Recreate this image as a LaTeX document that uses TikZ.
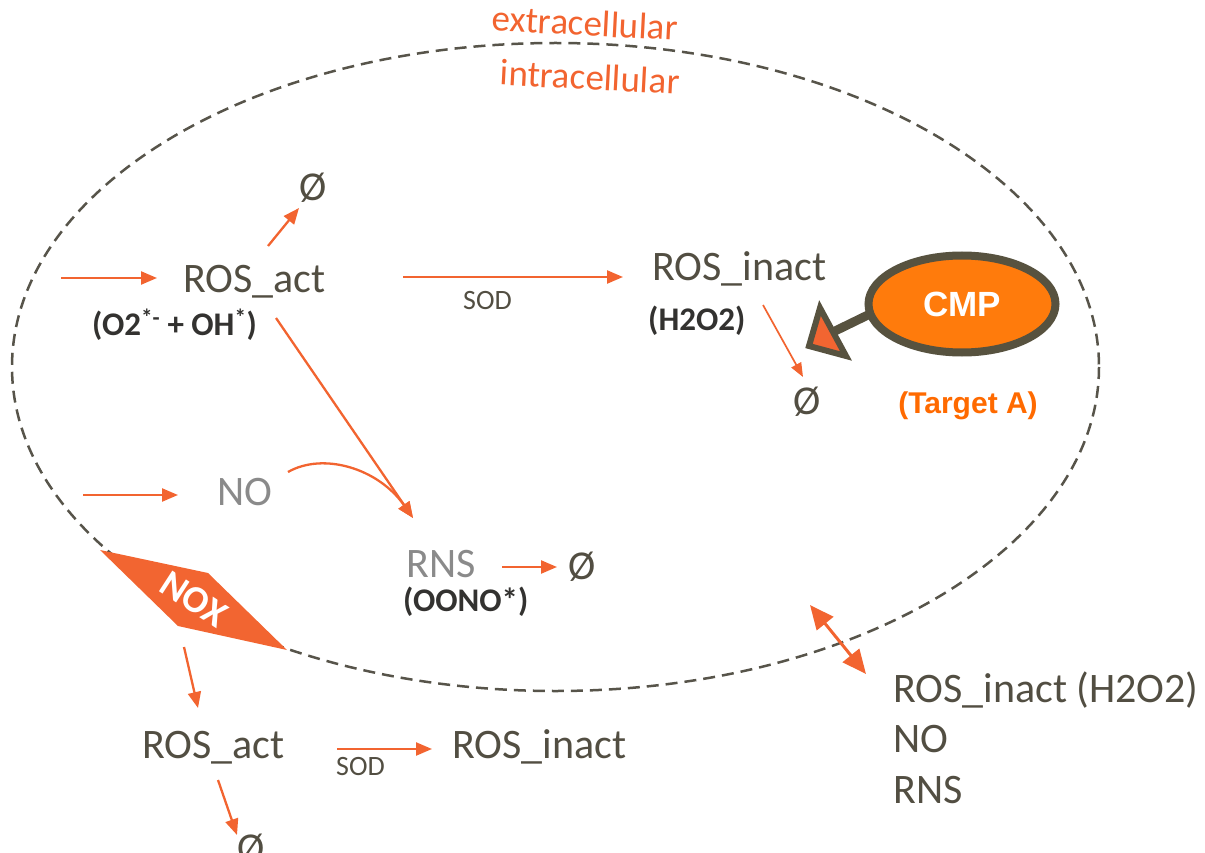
\documentclass[tikz,border=0pt]{standalone}
\usepackage{fontspec}
\setmainfont{Carlito}
\newfontfamily\arialfont{Liberation Sans}
\usetikzlibrary{arrows.meta,calc,shapes.geometric}

\definecolor{rxn}{HTML}{F26430}
\definecolor{speciescol}{HTML}{524E42}
\definecolor{formulacol}{HTML}{333230}
\definecolor{fadedcol}{HTML}{8A8A8A}
\definecolor{membranecol}{HTML}{57544A}
\definecolor{cmpfill}{HTML}{FF7B0C}
\definecolor{cmpedge}{HTML}{57523F}
\definecolor{targetcol}{HTML}{FF6A00}
\definecolor{noxcol}{HTML}{F26531}

\tikzset{
  species/.style={inner sep=0pt, text=speciescol, font=\fontsize{42}{48}\selectfont},
  faded/.style={species, text=fadedcol},
  formula/.style={inner sep=0pt, text=formulacol, font=\bfseries\fontsize{33}{38}\selectfont},
  enzyme/.style={inner sep=0pt, text=speciescol, font=\fontsize{28}{32}\selectfont},
  sink/.style={inner sep=0pt, text=speciescol, font=\fontsize{41}{46}\selectfont},
  compartment/.style={inner sep=0pt, text=rxn, font=\fontsize{37}{42}\selectfont, rotate=-3},
  flux/.style={draw=rxn, line width=2.3pt, -{Triangle[length=16pt,width=13pt]}},
  thinflux/.style={draw=rxn, line width=1.7pt, -{Triangle[length=14pt,width=11pt]}},
  transport/.style={draw=rxn, line width=3pt, {Triangle[length=24pt,width=21pt]}-{Triangle[length=24pt,width=21pt]}},
  membrane/.style={draw=membranecol, line width=2.5pt, dash pattern=on 12pt off 7pt},
}

\begin{document}
\begin{tikzpicture}[x=1pt,y=-1pt]
\useasboundingbox (0,0) rectangle (1205,853);

% cell membrane
\draw[membrane] (555.5,367) ellipse [x radius=543.5, y radius=324];
\node[compartment] (extra) at (585,23) {extracellular};
\node[compartment] (intra) at (590,77) {intracellular};

% NOX, sitting on the membrane
\fill[noxcol] (100,550) -- (208,573) -- (287,650) -- (178,626) -- cycle;
\node[inner sep=0pt, text=white, font=\bfseries\fontsize{38}{42}\selectfont, rotate=-33] (nox) at (194,599) {NOX};

% intracellular species
\node[species, anchor=base west] (ra) at (183,292) {ROS\_act};
\node[formula, anchor=base west] (f1) at (92,335) {(O2\textsuperscript{*-} + OH\textsuperscript{*})};
\node[sink] (z1) at (313,188) {Ø};
\node[species, anchor=base west] (ri) at (652,280) {ROS\_inact};
\node[formula, anchor=base west] (f2) at (648,330) {(H2O2)};
\node[enzyme, anchor=base west] (sod1) at (463,309) {SOD};
\node[sink] (z2) at (807,402) {Ø};
\node[faded, anchor=base west] (no) at (217,505) {NO};
\node[faded, anchor=base west] (rns) at (406,577) {RNS};
\node[formula, anchor=base west] (f3) at (403,611) {(OONO*)};
\node[sink] (z3) at (582,567) {Ø};

% compound and its target
\node[ellipse, draw=cmpedge, line width=8pt, fill=cmpfill, minimum width=187pt, minimum height=97pt, inner sep=0pt,
      text=white, font=\arialfont\bfseries\fontsize{35}{40}\selectfont] (cmp) at (962,304) {CMP};
\node[inner sep=0pt, anchor=base, text=targetcol, font=\arialfont\bfseries\fontsize{30}{34}\selectfont] (target) at (968,413) {(Target A)};

% extracellular species
\node[species, anchor=base west] (ra2) at (142,758) {ROS\_act};
\node[enzyme, anchor=base west] (sod2) at (336,775) {SOD};
\node[species, anchor=base west] (ri2) at (452,758) {ROS\_inact};
\node[sink] (z4) at (251,849) {Ø};
\node[species, anchor=base west] (l1) at (893,702) {ROS\_inact (H2O2)};
\node[species, anchor=base west] (l2) at (893,752) {NO};
\node[species, anchor=base west] (l3) at (893,803) {RNS};

% sources
\coordinate (srcA) at (61,278);
\coordinate (srcB) at (83,495);

% reactions inside the cell
\draw[flux] (srcA) -- ([shift={(-26,-14)}]ra.base west);
\draw[flux] ([shift={(85,-46)}]ra.base west) -- ([shift={(-14,20)}]z1.center);
\draw[flux] ([shift={(220,-15)}]ra.base west) -- ([shift={(-29,-3)}]ri.base west);
\draw[thinflux] ([shift={(111,25)}]ri.base west) -- ([shift={(-4,-25)}]z2.center);
\draw[flux] (srcB) -- ([shift={(-39,-10)}]no.base west);
\draw[flux] ([shift={(93,26)}]ra.base west) -- ([shift={(7,-59)}]rns.base west);
\draw[flux] ([shift={(71,-33)}]no.base west) .. controls +(35,-20) and +(-35,-50) .. ([shift={(7,-59)}]rns.base west);
\draw[flux] ([shift={(96,-10)}]rns.base west) -- ([shift={(-25,0)}]z3.center);

% inhibition of the target by CMP
\draw[draw=cmpedge, line width=9pt] ([shift={(-90,9)}]cmp.center) -- ([shift={(-129,28)}]cmp.center);
\draw[draw=cmpedge, fill=noxcol, line width=6pt, line join=miter]
  ([shift={(-142,4)}]cmp.center) -- ([shift={(-153,42)}]cmp.center) -- ([shift={(-116,52)}]cmp.center) -- cycle;

% reactions outside the cell
\draw[flux] ([shift={(-10,48)}]nox.center) -- ([shift={(56,-50)}]ra2.base west);
\draw[flux] ([shift={(76,22)}]ra2.base west) -- ([shift={(-14,-14)}]z4.center);
\draw[flux] ([shift={(195,-9)}]ra2.base west) -- ([shift={(-20,-9)}]ri2.base west);

% exchange across the membrane
\draw[transport] ([shift={(-83,-97)}]l1.base west) -- ([shift={(-27,-28)}]l1.base west);
\end{tikzpicture}
\end{document}
